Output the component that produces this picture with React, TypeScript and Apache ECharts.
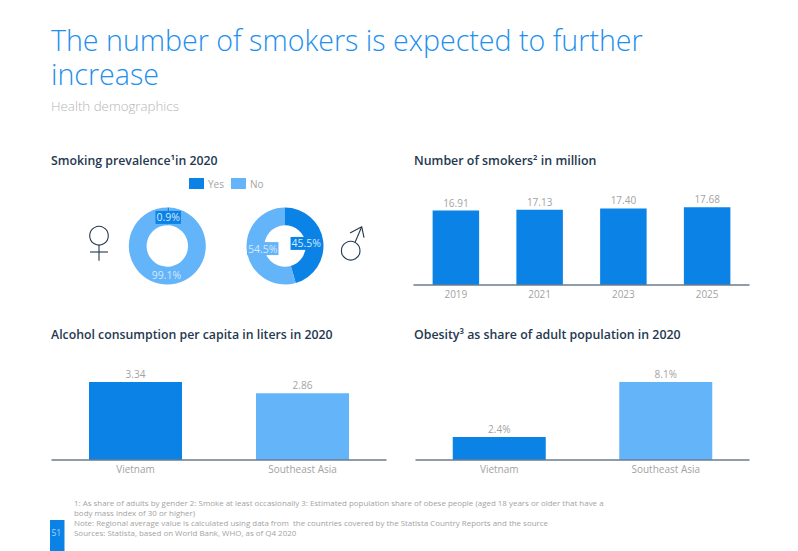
import React, { useEffect, useRef } from "react";
import * as echarts from "echarts";

const FONT = "'Open Sans', sans-serif";
const DARK = "#0b82e6";
const LIGHT = "#63b4f9";
const GREY = "#a3a3a3";
const NAVY = "#24384f";
const AXIS = "#6b7d90";

const legendNames = ["Yes", "No"];
const femaleValues = [0.9, 99.1];
const maleValues = [45.5, 54.5];
const smokerYears = ["2019", "2021", "2023", "2025"];
const smokerValues = [16.91, 17.13, 17.4, 17.68];
const compareCategories = ["Vietnam", "Southeast Asia"];
const alcoholValues = [3.34, 2.86];
const obesityValues = [2.4, 8.1];

const titleLines = ["The number of smokers is expected to further", "increase"];
const subtitle = "Health demographics";
const panelTitles = [
  "Smoking prevalence¹in 2020",
  "Number of smokers² in million",
  "Alcohol consumption per capita in liters in 2020",
  "Obesity³ as share of adult population in 2020",
];
const footnotes = [
  "1: As share of adults by gender 2: Smoke at least occasionally 3: Estimated population share of obese people (aged 18 years or older that have a",
  "body mass index of 30 or higher)",
  "Note: Regional average value is calculated using data from  the countries covered by the Statista Country Reports and the source",
  "Sources: Statista, based on World Bank, WHO, as of Q4 2020",
];
const pageNumber = "51";

function pie(center: number[], values: number[], labelOffsets: number[][]) {
  return {
    type: "pie",
    center,
    radius: [20.7, 38.5],
    startAngle: 90,
    clockwise: true,
    silent: true,
    label: { show: false },
    labelLine: { show: false },
    data: values.map((v, i) => ({
      name: legendNames[i],
      value: v,
      itemStyle: { color: i === 0 ? DARK : LIGHT },
      label: {
        show: true,
        position: "inside",
        formatter: v.toFixed(1) + "%",
        fontFamily: FONT,
        fontSize: 10.5,
        color: "#d4e9fc",
        backgroundColor: i === 0 ? DARK : LIGHT,
        padding: [1, 1],
        offset: labelOffsets[i],
      },
    })),
  };
}

function bar(gridIndex: number, values: number[], colors: string[], width: number) {
  return {
    type: "bar",
    xAxisIndex: gridIndex,
    yAxisIndex: gridIndex,
    barWidth: width,
    silent: true,
    data: values.map((v, i) => ({ value: v, itemStyle: { color: colors[i % colors.length] } })),
    label: {
      show: true,
      position: "top",
      distance: 3,
      fontFamily: FONT,
      fontSize: 10,
      color: GREY,
      formatter: (p: any) => String(p.value),
    },
  };
}

function xAxis(gridIndex: number, data: string[]) {
  return {
    type: "category",
    gridIndex,
    data,
    axisTick: { show: false },
    axisLine: { show: true, lineStyle: { color: AXIS, width: 1.5 } },
    axisLabel: { fontFamily: FONT, fontSize: 10, color: GREY, margin: 4 },
    z: 5,
  };
}

function yAxis(gridIndex: number, max: number) {
  return { type: "value", gridIndex, min: 0, max, show: false, splitLine: { show: false } };
}

function text(x: number, y: number, t: string, fontSize: number, fill: string, fontWeight: any = 400, lineHeight?: number) {
  return { type: "text", x, y, silent: true, style: { text: t, fontFamily: FONT, fontSize, fill, fontWeight, lineHeight, textVerticalAlign: "middle" } };
}

const line = (x1: number, y1: number, x2: number, y2: number) => ({
  type: "line",
  silent: true,
  shape: { x1, y1, x2, y2 },
  style: { stroke: NAVY, lineWidth: 1.1, fill: "none" },
});
const ring = (cx: number, cy: number, r: number) => ({
  type: "circle",
  silent: true,
  shape: { cx, cy, r },
  style: { stroke: NAVY, lineWidth: 1.1, fill: "none" },
});

export default function App() {
  const ref = useRef<HTMLDivElement>(null);
  useEffect(() => {
    const chart = echarts.init(ref.current!, undefined, { renderer: "svg" });
    const alcohol = bar(1, alcoholValues, [DARK, LIGHT], 93);
    alcohol.label.formatter = (p: any) => p.value.toFixed(2);
    const smokers = bar(0, smokerValues, [DARK], 46.5);
    smokers.label.formatter = (p: any) => p.value.toFixed(2);
    const obesity = bar(2, obesityValues, [DARK, LIGHT], 93);
    obesity.label.formatter = (p: any) => p.value.toFixed(1) + "%";
    chart.setOption({
      animation: false,
      backgroundColor: "#ffffff",
      legend: {
        left: 184,
        top: 173,
        itemWidth: 15,
        itemHeight: 11,
        itemGap: 7,
        data: legendNames,
        icon: "rect",
        selectedMode: false,
        textStyle: { fontFamily: FONT, fontSize: 10, color: GREY, padding: [0, 0, 0, -1] },
      },
      grid: [
        { left: 414, top: 197, width: 335, height: 88 },
        { left: 52, top: 366.6, width: 334, height: 93.4 },
        { left: 416, top: 363.7, width: 333, height: 96.3 },
      ],
      xAxis: [xAxis(0, smokerYears), xAxis(1, compareCategories), xAxis(2, compareCategories)],
      yAxis: [yAxis(0, 20), yAxis(1, 4), yAxis(2, 10)],
      series: [
        pie([167.3, 246], femaleValues, [[0, 4], [0, -4]]),
        pie([285, 246], maleValues, [[-11, 2], [10, -2]]),
        smokers,
        alcohol,
        obesity,
      ],
      graphic: [
        text(51, 56, titleLines.join("\n"), 28.6, "#1e8fee", 300, 34),
        text(51, 106, subtitle, 13.3, "#b5b5b5", 300),
        text(51, 160, panelTitles[0], 12.3, NAVY, 600),
        text(414, 160, panelTitles[1], 12.4, NAVY, 600),
        text(51, 334, panelTitles[2], 12.3, NAVY, 600),
        text(414, 334, panelTitles[3], 12.35, NAVY, 600),
        ...footnotes.map((f, i) => text(74, 503 + i * 10, f, 7.95, GREY)),
        { type: "rect", silent: true, shape: { x: 50, y: 520, width: 14.5, height: 31 }, style: { fill: DARK } },
        text(51.5, 532, pageNumber, 8.5, "#a9d5f8"),
        ring(99, 235.7, 9.3),
        line(99, 245, 99, 260.7),
        line(90, 252, 108, 252),
        ring(350.7, 250.7, 9.3),
        line(355, 242.5, 361.7, 226.7),
        line(350, 233, 361.7, 226.7),
        line(361.7, 226.7, 364, 237.7),
      ],
    });
    return () => chart.dispose();
  }, []);
  return <div ref={ref} style={{ width: 798, height: 551, position: "absolute", left: 0, top: 0 }} />;
}
